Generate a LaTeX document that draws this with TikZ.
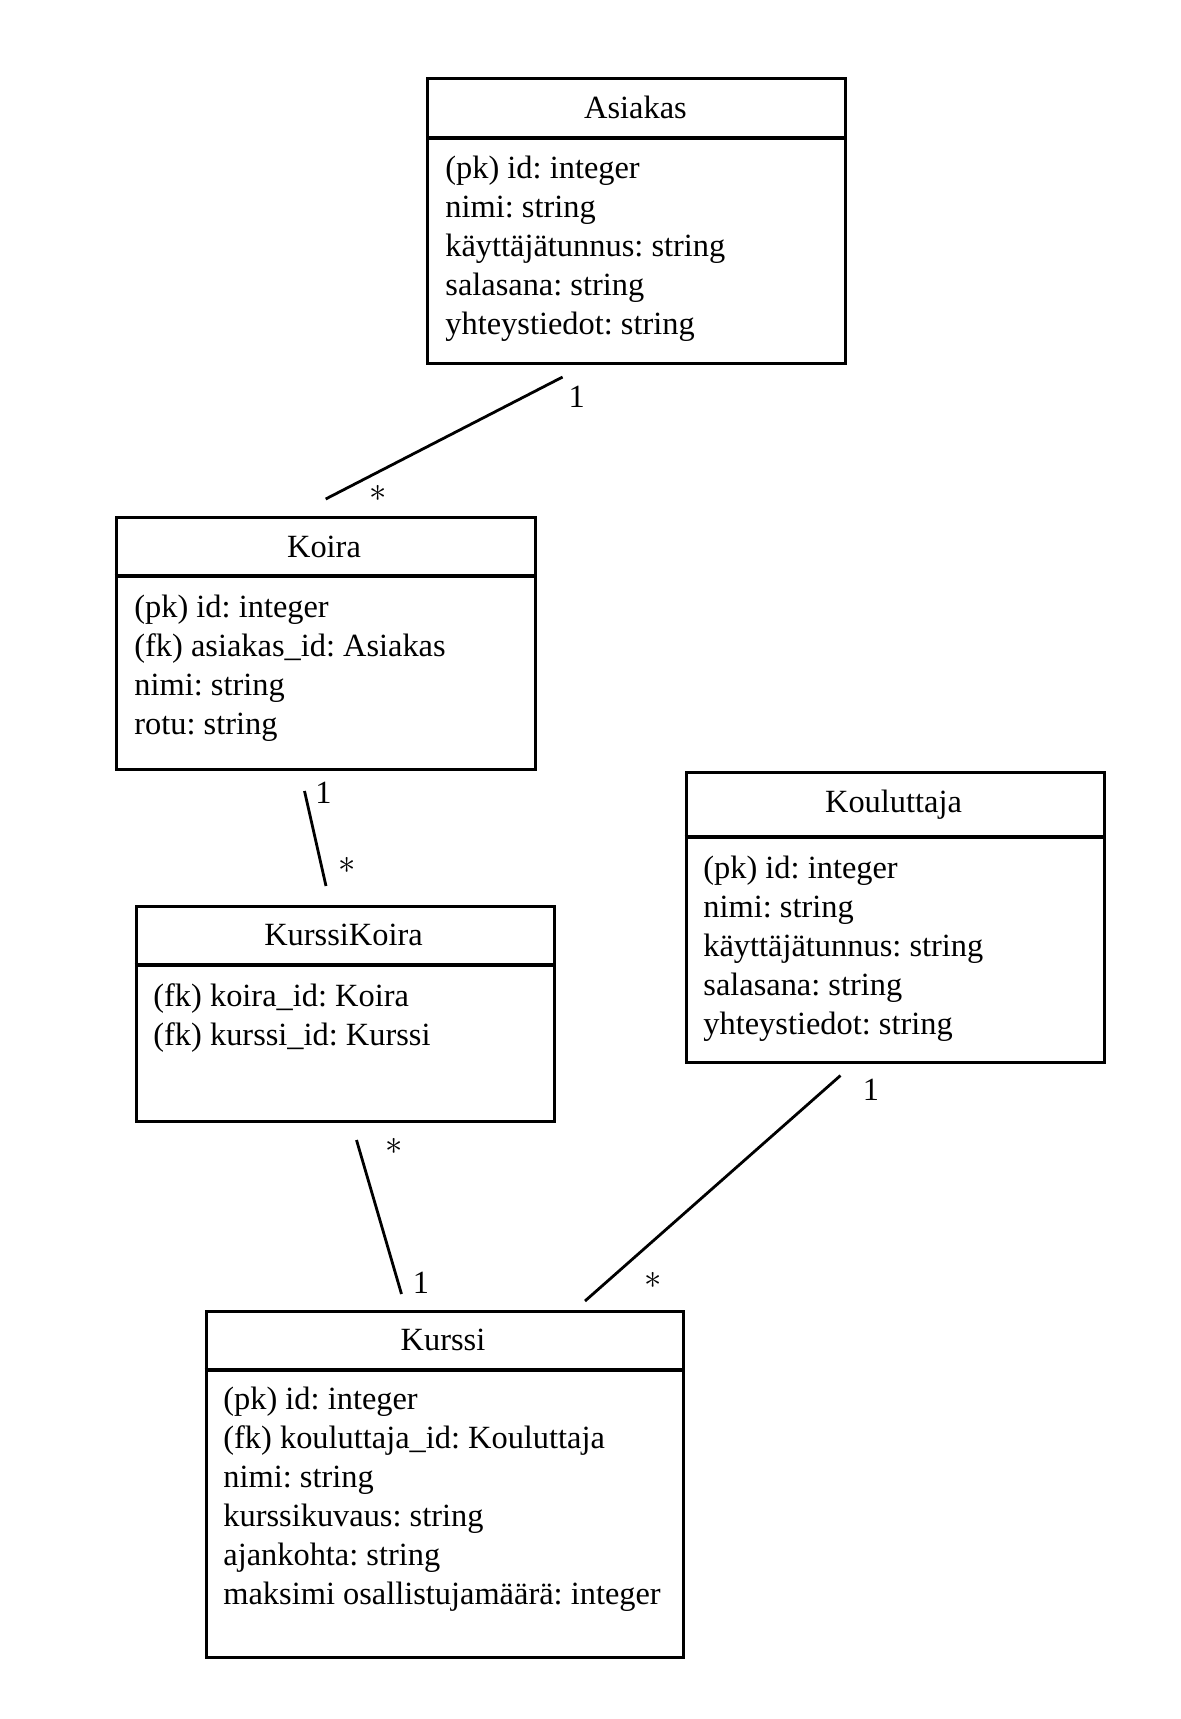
\documentclass[tikz,border=0pt]{standalone}
\usepackage{fontspec}
\setmainfont{Liberation Serif}
\frenchspacing
\usetikzlibrary{calc}
\begin{document}
\begin{tikzpicture}[x=0.5pt,y=-0.5pt,
  box/.style={draw, line width=1.5pt, anchor=north west, inner sep=0pt},
  ttl/.style={anchor=base, font=\fontsize{16.2}{19.5}\selectfont\frenchspacing, inner sep=0pt},
  attrs/.style={anchor=base west, font=\fontsize{16.2}{19.5}\selectfont\frenchspacing, inner sep=0pt},
  divider/.style={line width=2pt},
  conn/.style={line width=1.4pt},
  mult/.style={font=\fontsize{16.2}{19.5}\selectfont, inner sep=0pt}]
\useasboundingbox[fill=white] (0,0) rectangle (1181,1719);

% Asiakas
\node[box, minimum width=209pt, minimum height=142.5pt] (asiakas) at (426,77) {};
\draw[divider] ($(asiakas.north west)+(0,61)$) -- ($(asiakas.north east)+(0,61)$);
\node[ttl] (asiakasT) at (635.5,118) {Asiakas};
\node[attrs] (asiakasA) at (445,178) {\begin{tabular}[t]{@{}l@{}}(pk) id: integer\\ nimi: string\\ käyttäjätunnus: string\\ salasana: string\\ yhteystiedot: string\end{tabular}};

% Koira
\node[box, minimum width=209.5pt, minimum height=126.25pt] (koira) at (114.5,515.5) {};
\draw[divider] ($(koira.north west)+(0,60)$) -- ($(koira.north east)+(0,60)$);
\node[ttl] (koiraT) at (324,557) {Koira};
\node[attrs] (koiraA) at (134,617) {\begin{tabular}[t]{@{}l@{}}(pk) id: integer\\ (fk) asiakas\_id: Asiakas\\ nimi: string\\ rotu: string\end{tabular}};

% KurssiKoira
\node[box, minimum width=209pt, minimum height=107.5pt] (kk) at (134.5,905) {};
\draw[divider] ($(kk.north west)+(0,60)$) -- ($(kk.north east)+(0,60)$);
\node[ttl] (kkT) at (343.5,945) {KurssiKoira};
\node[attrs] (kkA) at (153,1006.5) {\begin{tabular}[t]{@{}l@{}}(fk) koira\_id: Koira\\ (fk) kurssi\_id: Kurssi\end{tabular}};

% Kouluttaja
\node[box, minimum width=209pt, minimum height=145pt] (kouluttaja) at (684.5,771) {};
\draw[divider] ($(kouluttaja.north west)+(0,66)$) -- ($(kouluttaja.north east)+(0,66)$);
\node[ttl] (kouluttajaT) at (893.5,812) {Kouluttaja};
\node[attrs] (kouluttajaA) at (703,878) {\begin{tabular}[t]{@{}l@{}}(pk) id: integer\\ nimi: string\\ käyttäjätunnus: string\\ salasana: string\\ yhteystiedot: string\end{tabular}};

% Kurssi
\node[box, minimum width=238.5pt, minimum height=173pt] (kurssi) at (204.5,1310) {};
\draw[divider] ($(kurssi.north west)+(0,60)$) -- ($(kurssi.north east)+(0,60)$);
\node[ttl] (kurssiT) at (443,1350) {Kurssi};
\node[attrs] (kurssiA) at (223,1409) {\begin{tabular}[t]{@{}l@{}}(pk) id: integer\\ (fk) kouluttaja\_id: Kouluttaja\\ nimi: string\\ kurssikuvaus: string\\ ajankohta: string\\ maksimi osallistujamäärä: integer\end{tabular}};

% connectors
\draw[conn] ($(asiakas.south west)+(136.6,12)$) -- ($(koira.north west)+(211.2,-16.5)$);
\draw[conn] ($(koira.south west)+(190,20)$) -- ($(kk.north west)+(191.5,-19)$);
\draw[conn] ($(kk.south west)+(222,17)$) -- ($(kurssi.north west)+(197,-16)$);
\draw[conn] ($(kouluttaja.south west)+(156,11.5)$) -- ($(kurssi.north west)+(380.5,-9)$);

% multiplicities
\node[mult] (m1) at (576.8,397) {1};
\node[mult] (m2) at (378.3,493) {$\ast$};
\node[mult] (m3) at (323.5,793) {1};
\node[mult] (m4) at (347.5,865.5) {$\ast$};
\node[mult] (m5) at (394,1146.5) {$\ast$};
\node[mult] (m6) at (421,1283) {1};
\node[mult] (m7) at (871,1090) {1};
\node[mult] (m8) at (653,1280.5) {$\ast$};
\end{tikzpicture}
\end{document}
